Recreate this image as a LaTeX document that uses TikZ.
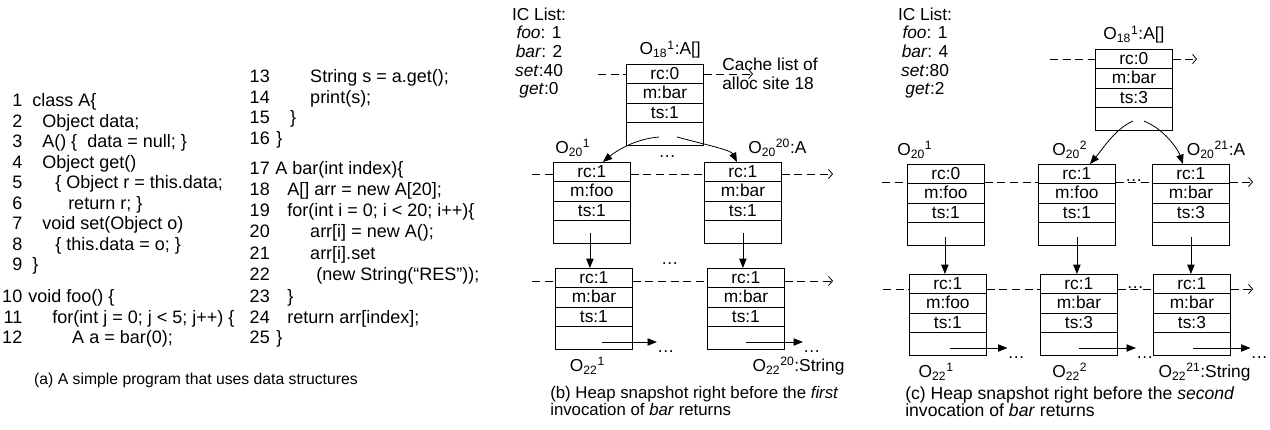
\documentclass[tikz,border=0pt]{standalone}
\usepackage{fontspec}
\setmainfont{Liberation Sans}
\usetikzlibrary{arrows.meta, positioning, shapes.multipart, calc}

\newlength{\pxu}\setlength{\pxu}{0.75pt}
\newcommand{\lno}[2]{\makebox[14.25pt][r]{#1}\hspace*{#2\pxu}}
\newcommand{\fld}[3]{#1\rule[-3pt]{0pt}{14pt}\nodepart{two}#2\rule[-3pt]{0pt}{14pt}%
  \nodepart{three}#3\rule[-3pt]{0pt}{14pt}\nodepart{four}\rule[-4.5pt]{0pt}{16.5pt}}
\newcommand{\oname}[3]{O\textsubscript{#1}\textsuperscript{#2}#3}

\begin{document}
\begin{tikzpicture}[
        x=0.75pt, y=-0.75pt,
        src/.style={anchor=west, inner sep=0pt, font=\fontsize{13.5}{15}\selectfont,
                    text height=9.8pt, text depth=3pt},
        objbox/.style={rectangle split, rectangle split parts=4, draw, line width=0.6pt,
                       minimum width=57.75pt, inner xsep=2pt, inner ysep=0pt,
                       font=\fontsize{13}{15}\selectfont, anchor=north west},
        lbl/.style={inner sep=0pt, font=\fontsize{13}{15}\selectfont},
        gapdots/.style={inner sep=0pt, font=\fontsize{13}{15}\selectfont},
        iclist/.style={align=center, inner sep=0pt, font=\fontsize{13}{14}\selectfont},
        capt/.style={align=left, inner sep=0pt, font=\fontsize{11.8}{12.75}\selectfont},
        heaplink/.style={dash pattern=on 6pt off 3.5pt, line width=0.6pt},
        heapend/.style={heaplink, -{Straight Barb[length=3pt,width=7pt]}},
        ptr/.style={-{Triangle[length=7pt,width=5.5pt]}, line width=0.6pt}
    ]
    \useasboundingbox (0,0) rectangle (1270,429);

    % (a) the program
    \node [src] (l1)  at (3,102)   {\lno{1}{10}class A\{};
    \node [src] (l2)  at (3,122.5) {\lno{2}{20}Object data;};
    \node [src] (l3)  at (3,143)   {\lno{3}{20}A() \{\ \ data = null; \}};
    \node [src] (l4)  at (3,163.5) {\lno{4}{20}Object get()};
    \node [src] (l5)  at (3,184)   {\lno{5}{33}\{ Object r = this.data;};
    \node [src] (l6)  at (3,204.5) {\lno{6}{46}return r; \}};
    \node [src] (l7)  at (3,225)   {\lno{7}{20}void set(Object o)};
    \node [src] (l8)  at (3,245.5) {\lno{8}{33}\{ this.data = o; \}};
    \node [src] (l9)  at (3,266)   {\lno{9}{10}\}};
    \node [src] (l10) at (3,298)   {\lno{10}{6}void foo() \{};
    \node [src] (l11) at (3,318.5) {\lno{11}{30}for(int j = 0; j < 5; j++) \{};
    \node [src] (l12) at (3,339)   {\lno{12}{50}A a = bar(0);};
    \node [src] (l13) at (250.5,78)    {\lno{13}{40.5}String s = a.get();};
    \node [src] (l14) at (250.5,98.5)  {\lno{14}{40.5}print(s);};
    \node [src] (l15) at (250.5,119)   {\lno{15}{20.5}\}};
    \node [src] (l16) at (250.5,139.5) {\lno{16}{6.5}\}};
    \node [src] (l17) at (250.5,170)   {\lno{17}{5.5}A bar(int index)\{};
    \node [src] (l18) at (250.5,191.1) {\lno{18}{17.5}A[] arr = new A[20];};
    \node [src] (l19) at (250.5,212.2) {\lno{19}{17.5}for(int i = 0; i < 20; i++)\{};
    \node [src] (l20) at (250.5,233.4) {\lno{20}{40.5}arr[i] = new A();};
    \node [src] (l21) at (250.5,254.5) {\lno{21}{40.5}arr[i].set};
    \node [src] (l22) at (250.5,275.6) {\lno{22}{46.5}(new String(“RES”));};
    \node [src] (l23) at (250.5,298)   {\lno{23}{17.5}\}};
    \node [src] (l24) at (250.5,318.5) {\lno{24}{17.5}return arr[index];};
    \node [src] (l25) at (250.5,339)   {\lno{25}{6.5}\}};
    \node [capt, anchor=base] (capa) at (196,384) {(a) A simple program that uses data structures};

    % (b) first invocation
    \node [iclist] (icb) at (539,53) {IC List:\\\textit{foo}: 1\\\textit{bar}: 2\\\textit{set}:40\\\textit{get}:0};
    \node [objbox] (o18b)  at (626,64)  {\fld{rc:0}{m:bar}{ts:1}};
    \node [objbox] (o20b1) at (553,162) {\fld{rc:1}{m:foo}{ts:1}};
    \node [objbox] (o20b2) at (704,162) {\fld{rc:1}{m:bar}{ts:1}};
    \node [objbox] (o22b1) at (555,268) {\fld{rc:1}{m:bar}{ts:1}};
    \node [objbox] (o22b2) at (707,268) {\fld{rc:1}{m:bar}{ts:1}};
    \node [lbl, above=4pt of o18b.north, xshift=4pt] (n18b) {\oname{18}{1}{:A[]}};
    \node [lbl, above=4pt of o20b1.north west, anchor=south west, xshift=1.5pt] (n20b1) {\oname{20}{1}{}};
    \node [lbl, above=4pt of o20b2.north west, anchor=south west, xshift=33pt] (n20b2) {\oname{20}{20}{:A}};
    \node [lbl, below=5pt of o22b1.south west, anchor=north west, xshift=11pt] (n22b1) {\oname{22}{1}{}};
    \node [lbl, below=5pt of o22b2.south west, anchor=north west, xshift=34pt] (n22b2) {\oname{22}{20}{:String}};
    \node [lbl, align=left, anchor=west, font=\fontsize{13}{14.25}\selectfont] (cache) at (722,74) {Cache list of\\alloc site 18};

    \coordinate (in18b) at (598,74);  \coordinate (out18b) at (753,74);
    \coordinate (in20b) at (532,174); \coordinate (out20b) at (833,174);
    \coordinate (in22b) at (532,281); \coordinate (out22b) at (833,281);
    \draw[heaplink] (in18b) -- (in18b -| o18b.west);
    \draw[heapend]  (in18b -| o18b.east) -- (out18b);
    \draw[heaplink] (in20b) -- (in20b -| o20b1.west);
    \draw[heaplink] (in20b -| o20b1.east) -- (in20b -| o20b2.west);
    \draw[heapend]  (in20b -| o20b2.east) -- (out20b);
    \draw[heaplink] (in22b) -- (in22b -| o22b1.west);
    \draw[heaplink] (in22b -| o22b1.east) -- (in22b -| o22b2.west);
    \draw[heapend]  (in22b -| o22b2.east) -- (out22b);
    \node [gapdots, anchor=base] (gap20b) at ($(o20b1.north east)!.5!(o20b2.north west)+(0,-5)$) {\dots};
    \node [gapdots, anchor=base] (gap22b) at ($(o22b1.north east)!.5!(o22b2.north west)+(0,-4)$) {\dots};

    \coordinate (p18b1) at ($(o18b.south)+(-6,-9)$);
    \coordinate (p18b2) at ($(o18b.south)+(12,-9)$);
    \draw[ptr] (p18b1) .. controls +(-25,2) and +(12,-10) .. ($(o20b1.north)+(11,0)$);
    \draw[ptr] (p18b2) .. controls +(30,8) and +(-6,-12) .. ($(o20b2.north)+(-6,0)$);
    \coordinate (p20b1) at ($(o20b1.south)+(-2,-11)$);
    \coordinate (p20b2) at ($(o20b2.south)+(0,-11)$);
    \draw[ptr] (p20b1) -- (p20b1 |- o22b1.north);
    \draw[ptr] (p20b2) -- (p20b2 |- o22b2.north);
    \coordinate (p22b1) at ($(o22b1.south)+(8,-8)$);
    \coordinate (p22b2) at ($(o22b2.south)+(0,-8)$);
    \node [gapdots, anchor=base west] (end22b1) at ($(p22b1)+(55,10)$) {\dots};
    \node [gapdots, anchor=base west] (end22b2) at ($(p22b2)+(57,10)$) {\dots};
    \draw[ptr] (p22b1) -- (p22b1 -| end22b1.west);
    \draw[ptr] (p22b2) -- (p22b2 -| end22b2.west);
    \node [capt, anchor=north west, font=\fontsize{12.6}{12.75}\selectfont] (capb) at (550,386) {(b) Heap snapshot right before the \textit{first}\\invocation of \textit{bar} returns};

    % (c) second invocation
    \node [iclist] (icc) at (925,53) {IC List:\\\textit{foo}: 1\\\textit{bar}: 4\\\textit{set}:80\\\textit{get}:2};
    \node [objbox] (o18c)  at (1095,49)  {\fld{rc:0}{m:bar}{ts:3}};
    \node [objbox] (o20c1) at (907,164)  {\fld{rc:0}{m:foo}{ts:1}};
    \node [objbox] (o20c2) at (1038,164) {\fld{rc:1}{m:foo}{ts:1}};
    \node [objbox] (o20c3) at (1152,164) {\fld{rc:1}{m:bar}{ts:3}};
    \node [objbox] (o22c1) at (909,274)  {\fld{rc:1}{m:foo}{ts:1}};
    \node [objbox] (o22c2) at (1040,274) {\fld{rc:1}{m:bar}{ts:3}};
    \node [objbox] (o22c3) at (1153,274) {\fld{rc:1}{m:bar}{ts:3}};
    \node [lbl, above=4pt of o18c.north] (n18c) {\oname{18}{1}{:A[]}};
    \node [lbl, above=4pt of o20c1.north west, anchor=south west, xshift=-7.5pt] (n20c1) {\oname{20}{1}{}};
    \node [lbl, above=4pt of o20c2.north west, anchor=south west, xshift=10.5pt] (n20c2) {\oname{20}{2}{}};
    \node [lbl, above=4pt of o20c3.north west, anchor=south west, xshift=26pt] (n20c3) {\oname{20}{21}{:A}};
    \node [lbl, below=5pt of o22c1.south west, anchor=north west, xshift=7pt] (n22c1) {\oname{22}{1}{}};
    \node [lbl, below=5pt of o22c2.south west, anchor=north west, xshift=9pt] (n22c2) {\oname{22}{2}{}};
    \node [lbl, below=5pt of o22c3.south west, anchor=north west, xshift=4pt] (n22c3) {\oname{22}{21}{:String}};

    \coordinate (in18c) at (1050,59);  \coordinate (out18c) at (1197,59);
    \coordinate (in20c) at (882,182);  \coordinate (out20c) at (1253,182);
    \coordinate (in22c) at (883,289);  \coordinate (out22c) at (1253,289);
    \draw[heaplink] (in18c) -- (in18c -| o18c.west);
    \draw[heapend]  (in18c -| o18c.east) -- (out18c);
    \draw[heaplink] (in20c) -- (in20c -| o20c1.west);
    \draw[heaplink] (in20c -| o20c1.east) -- (in20c -| o20c2.west);
    \draw[heaplink] (in20c -| o20c2.east) -- (in20c -| o20c3.west);
    \draw[heapend]  (in20c -| o20c3.east) -- (out20c);
    \draw[heaplink] (in22c) -- (in22c -| o22c1.west);
    \draw[heaplink] (in22c -| o22c1.east) -- (in22c -| o22c2.west);
    \draw[heaplink] (in22c -| o22c2.east) -- (in22c -| o22c3.west);
    \draw[heapend]  (in22c -| o22c3.east) -- (out22c);
    \node [gapdots, anchor=base] (gap20c) at ($(o20c2.north east)!.5!(o20c3.north west)+(0,17)$) {\dots};
    \node [gapdots, anchor=base] (gap22c) at ($(o22c2.north east)!.5!(o22c3.north west)+(0,14)$) {\dots};

    \coordinate (p18c1) at ($(o18c.south)+(-1,-10)$);
    \coordinate (p18c2) at ($(o18c.south)+(10,-10)$);
    \draw[ptr] (p18c1) .. controls +(-18,8) and +(12,-14) .. ($(o20c2.north)+(13,0)$);
    \draw[ptr] (p18c2) .. controls +(20,8) and +(-5,-15) .. ($(o20c3.north)+(-8,0)$);
    \coordinate (p20c1) at ($(o20c1.south)+(-1,-9)$);
    \coordinate (p20c2) at ($(o20c2.south)+(0,-9)$);
    \coordinate (p20c3) at ($(o20c3.south)+(0,-9)$);
    \draw[ptr] (p20c1) -- (p20c1 |- o22c1.north);
    \draw[ptr] (p20c2) -- (p20c2 |- o22c2.north);
    \draw[ptr] (p20c3) -- (p20c3 |- o22c3.north);
    \coordinate (p22c1) at ($(o22c1.south)+(2.5,-8)$);
    \coordinate (p22c2) at ($(o22c2.south)+(0,-8)$);
    \coordinate (p22c3) at ($(o22c3.south)+(1.5,-8)$);
    \node [gapdots, anchor=base west] (end22c1) at ($(p22c1)+(57,10)$) {\dots};
    \node [gapdots, anchor=base west] (end22c2) at ($(p22c2)+(57,10)$) {\dots};
    \node [gapdots, anchor=base west] (end22c3) at ($(p22c3)+(57,10)$) {\dots};
    \draw[ptr] (p22c1) -- (p22c1 -| end22c1.west);
    \draw[ptr] (p22c2) -- (p22c2 -| end22c2.west);
    \draw[ptr] (p22c3) -- (p22c3 -| end22c3.west);
    \node [capt, anchor=north west, font=\fontsize{13.2}{12.75}\selectfont] (capc) at (905,386) {(c) Heap snapshot right before the \textit{second}\\invocation of \textit{bar} returns};
\end{tikzpicture}
\end{document}
